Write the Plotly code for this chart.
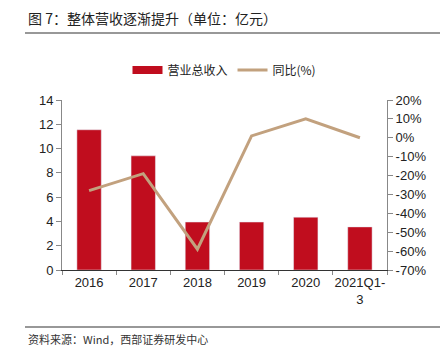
import plotly.graph_objects as go

categories = ["2016", "2017", "2018", "2019", "2020", "2021Q1-<br>3"]
revenue = [11.55, 9.4, 3.95, 3.95, 4.35, 3.55]
yoy = [-28, -19, -59, 1, 10, 0]
left_ticks = [0, 2, 4, 6, 8, 10, 12, 14]
right_ticks = [20, 10, 0, -10, -20, -30, -40, -50, -60, -70]

L, R, T, B = 62, 59, 100, 84
W, H = 446, 354
pw, ph = W - L - R, H - T - B

def px(x):
    return (x - L) / pw

def py(y):
    return (H - B - y) / ph

RED = "#C00D1E"
TAN = "#C2A17E"

fig = go.Figure()
fig.add_trace(go.Bar(x=categories, y=revenue, name="营业总收入",
                     marker_color=RED, width=0.45, yaxis="y", showlegend=False))
# legend-only entry giving a wide rectangle swatch like the reference
fig.add_trace(go.Scatter(x=[None], y=[None], name="营业总收入", mode="lines",
                         line=dict(color=RED, width=8), yaxis="y"))
fig.add_trace(go.Scatter(x=categories, y=yoy, name="同比(%)", mode="lines",
                         line=dict(color=TAN, width=3), yaxis="y2"))

tickfont = dict(family="Liberation Sans, Arial", size=13, color="#222")
fig.update_layout(
    width=W, height=H,
    margin=dict(l=L, r=R, t=T, b=B),
    plot_bgcolor="white", paper_bgcolor="white",
    showlegend=True,
    legend=dict(orientation="h", x=0.5, xanchor="center", y=py(70), yanchor="middle",
                font=dict(family="Noto Sans CJK SC", size=12, color="#222"),
                traceorder="normal"),
    xaxis=dict(type="category", showline=True, linecolor="#333", linewidth=1,
               ticks="outside", tickson="boundaries", ticklen=4, tickcolor="#888",
               tickangle=0, tickfont=tickfont, showgrid=False),
    yaxis=dict(range=[0, 14], tickvals=left_ticks, showline=True, linecolor="#888",
               ticks="outside", ticklen=5, tickcolor="#888", tickfont=tickfont,
               showgrid=False, zeroline=False),
    yaxis2=dict(range=[-70, 20], tickvals=right_ticks,
                ticktext=[f"{v}%" for v in right_ticks],
                overlaying="y", side="right", showline=True, linecolor="#888",
                ticks="outside", ticklen=5, tickcolor="#888", tickfont=tickfont,
                showgrid=False, zeroline=False),
)

fig.add_annotation(text="图 7：整体营收逐渐提升（单位：亿元）", xref="paper", yref="paper",
                   x=px(26), y=py(18), xanchor="left", yanchor="middle", showarrow=False,
                   font=dict(family="Noto Sans CJK SC", size=14, color="#222"))
fig.add_annotation(text="资料来源：Wind，西部证券研发中心", xref="paper", yref="paper",
                   x=px(26), y=py(339), xanchor="left", yanchor="middle", showarrow=False,
                   font=dict(family="Noto Sans CJK SC", size=11, color="#333"))
fig.add_shape(type="line", xref="paper", yref="paper", x0=px(25), x1=px(440),
              y0=py(33), y1=py(33), line=dict(color="#333", width=1.2))
fig.add_shape(type="line", xref="paper", yref="paper", x0=px(25), x1=px(440),
              y0=py(327), y1=py(327), line=dict(color="#333", width=1.2))

fig.write_html("out.html")
